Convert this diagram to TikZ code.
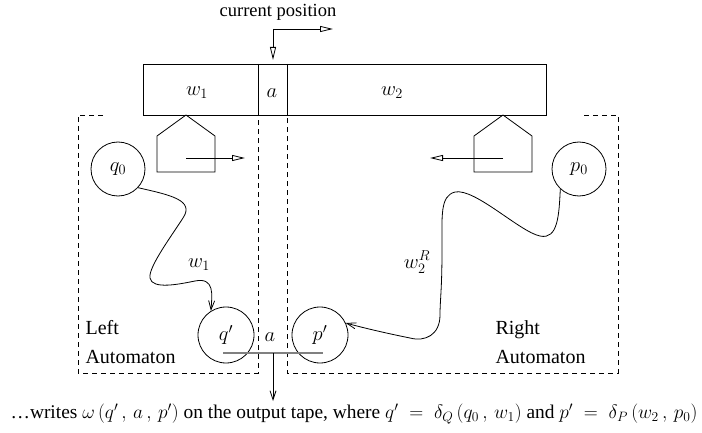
\documentclass[tikz,border=0pt]{standalone}
\usepackage{fix-cm}
\usepackage[no-math]{fontspec}
\setmainfont{Liberation Serif}
\usetikzlibrary{arrows.meta}
\begin{document}
\begin{tikzpicture}[x=1pt,y=-1pt,
  every node/.style={font=\fontsize{20.5}{29}\selectfont},
  ln/.style={line width=0.8pt},
  dsh/.style={line width=0.8pt, dash pattern=on 5pt off 4pt},
  tri/.style={-{Triangle[open,length=13pt,width=6pt]}},
  barb/.style={-{Straight Barb[length=9pt,width=6pt]}},
  st/.style={circle, draw, line width=0.8pt, inner sep=0pt}]
\useasboundingbox (0,0) rectangle (702,433);
% tape
\draw[ln] (143,64) rectangle (546,115);
\draw[ln] (258,64) -- (258,115);
\draw[ln] (287,64) -- (287,115);
\node (w1) at (197,93) {$w_1$};
\node (ta) at (272,93) {$a$};
\node (w2) at (392,93) {$w_2$};
% current position
\node[font=\fontsize{18.5}{22}\selectfont] (cur) at (278,12) {current position};
\coordinate (cpc) at (273,29);
\coordinate (cpd) at (273,60);
\coordinate (cpr) at (333,29);
\draw[ln,tri] (cpc) -- (cpd);
\draw[ln,tri] (cpc) -- (cpr);
% dashed boxes
\draw[dsh] (103,115) -- (78,115) -- (78,373) -- (258,373) -- (258,115);
\draw[dsh] (584,115) -- (618,115) -- (618,373) -- (287,373) -- (287,115);
% heads
\draw[ln] (186,115) -- (215,136) -- (215,172) -- (157,172) -- (157,136) -- cycle;
\draw[ln] (503,115) -- (532,136) -- (532,172) -- (474,172) -- (474,136) -- cycle;
\coordinate (hl1) at (186,158);
\coordinate (hl2) at (245,158);
\coordinate (hr1) at (503,158);
\coordinate (hr2) at (430,158);
\draw[ln,tri] (hl1) -- (hl2);
\draw[ln,tri] (hr1) -- (hr2);
% states
\node[st, minimum size=54pt] (q0) at (118,169) {$q_0$};
\node[st, minimum size=54pt] (p0) at (579,169) {$p_0$};
\node[st, minimum size=56pt] (qp) at (226,335) {$q'$};
\node[st, minimum size=56pt] (pp) at (320,335) {$p'$};
\node (ca) at (270,337) {$a$};
% paths
\draw[ln,barb] (q0.-43) .. controls (170,195) and (195,200) .. (183,218)
   .. controls (170,238) and (148,268) .. (150,278)
   .. controls (152,290) and (180,284) .. (195,281)
   .. controls (215,277) and (212,295) .. (qp.122);
\node (lw1) at (199,265) {$w_1$};
\draw[ln,barb] (p0.-133) .. controls (559,215) and (558,240) .. (540,236)
   .. controls (520,232) and (475,188) .. (455,192)
   .. controls (440,196) and (442,215) .. (442,250)
   .. controls (442,290) and (440,300) .. (440,315)
   .. controls (440,335) and (425,342) .. (410,338)
   .. controls (385,333) and (360,327) .. (pp.25);
\node[inner sep=0.5pt] (lw2) at (417,262) {$w_2^R$};
% labels
\node[anchor=west, align=left, font=\fontsize{20}{29}\selectfont] (lt) at (82,342) {Left\\Automaton};
\node[anchor=west, align=left, font=\fontsize{20}{29}\selectfont] (rt) at (492,342) {Right\\Automaton};
% output
\draw[line width=1.1pt, gray] (223,353) -- (323,353);
\coordinate (oc) at (273,353);
\coordinate (od) at (273,401);
\draw[ln,barb] (oc) -- (od);
\node[inner sep=0pt, font=\fontsize{19.4}{23}\selectfont] (out) at (354,414) {\ldots writes $\omega\,(q'\,,\,a\,,\,p')$ on the output tape, where $q'\;=\;\delta_Q\,(q_0\,,\,w_1)$ and $p'\;=\;\delta_P\,(w_2\,,\,p_0)$};
\end{tikzpicture}
\end{document}
